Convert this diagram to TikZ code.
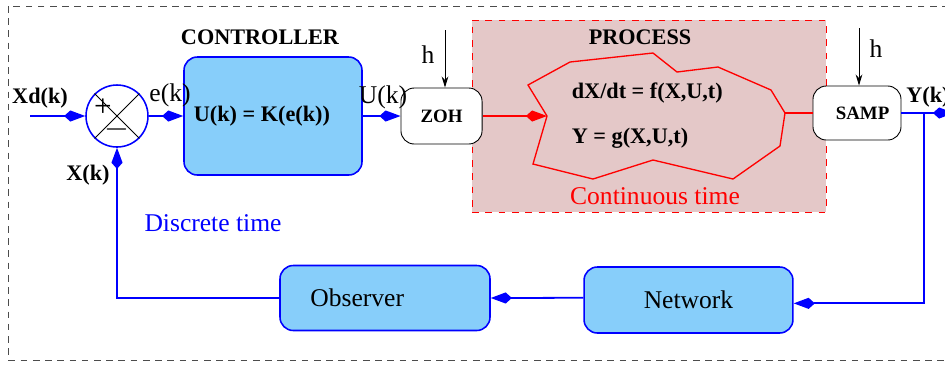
\documentclass[tikz,border=0pt]{standalone}
\usepackage{fontspec}
\setmainfont{Liberation Serif}
\usetikzlibrary{arrows.meta}
\definecolor{boxblue}{RGB}{135,206,250}
\definecolor{procpink}{RGB}{228,200,200}
\begin{document}
\begin{tikzpicture}[x=0.45pt,y=-0.45pt,
    blk/.style={draw=blue, line width=0.7pt, fill=boxblue, rounded corners=6pt, inner sep=0pt},
    smp/.style={draw=black, line width=0.4pt, fill=white, rounded corners=6pt, inner sep=0pt, font=\bfseries\fontsize{8.5}{10}\selectfont},
    sig/.style={blue, line width=0.8pt},
    kite/.style={-{Kite[length=9.5pt,width=5pt,inset=2.8pt]}},
    lbl/.style={font=\bfseries\fontsize{10}{12}\selectfont},
    txt/.style={font=\fontsize{11.5}{13}\selectfont}]
    \clip (0,0) rectangle (945,365);
    \draw[dash pattern=on 3pt off 2.5pt, black!70, line width=0.4pt] (8,6) rectangle (980,360);

    % process (continuous time)
    \node[draw=red, dashed, fill=procpink, line width=0.4pt, minimum width=159.3pt, minimum height=86.4pt, inner sep=0pt] (proc) at (649,116) {};
    \coordinate (blobin) at (547,116); \coordinate (blobout) at (785,113);
    \draw[red, line width=0.6pt] (528,85)--(570,62)--(653,53)--(677,72)--(718,67)--(771,90)--(blobout)--(780,146)--(733,179)--(653,160)--(593,179)--(533,164)--(blobin)--cycle;
    \node[lbl] (proctitle) at (640,37) {PROCESS};
    \node[lbl, anchor=west] (feq) at (564,93) {dX/dt = f(X,U,t)};
    \node[lbl, anchor=west] (geq) at (564,138) {Y = g(X,U,t)};
    \node[txt, red] (ctime) at (655,196) {Continuous time};

    % blocks
    \node[draw=blue, line width=0.7pt, circle, minimum size=27.9pt, inner sep=0pt] (sum) at (117,116) {};
    \draw[line width=0.4pt] (sum.north west)--(sum.south east); \draw[line width=0.4pt] (sum.north east)--(sum.south west);
    \node[font=\fontsize{14}{16}\selectfont, inner sep=0pt] (plus) at (103,108) {+};
    \node[font=\fontsize{14}{16}\selectfont, inner sep=0pt] (minus) at (117,129) {$-$};
    \node[blk, minimum width=80.1pt, minimum height=53.1pt, label={[lbl, xshift=-5pt]center:U(k) = K(e(k))}] (ctrl) at (273,116) {};
    \node[lbl] (ctrltitle) at (260,37) {CONTROLLER};
    \node[smp, minimum width=36.5pt, minimum height=25.2pt] (zoh) at (441.5,116) {ZOH};
    \node[smp, minimum width=39.6pt, minimum height=24.3pt] (samp) at (857,113) {\hspace{5pt}SAMP};
    \node[blk, minimum width=94.5pt, minimum height=29.25pt, label={[txt, xshift=-12.5pt]center:Observer}] (obs) at (385,298) {};
    \node[blk, minimum width=94pt, minimum height=29.7pt, txt] (net) at (688.5,300) {Network};

    % signals
    \coordinate (xdin) at (30,116);
    \draw[sig, kite] (xdin)--(sum.west);
    \draw[sig, kite] (sum.east)--(ctrl.west);
    \draw[sig, kite] (ctrl.east)--(zoh.west);
    \draw[red, line width=0.6pt, kite] (zoh.east)--(blobin);
    \draw[red, line width=0.6pt] (blobout)--(samp.west);
    \coordinate (yout) at (954,113); \coordinate (ytap) at (924,113);
    \draw[sig, kite] (samp.east)--(yout);
    \draw[sig, kite] (ytap) |- ([yshift=-1.5pt]net.east);
    \draw[sig, kite] ([yshift=1pt]net.west)--(obs.east);
    \draw[sig, kite] (obs.west) -| (sum.south);

    % sampling period
    \coordinate (hzoh) at (445,30); \coordinate (hsamp) at (859,28);
    \draw[-{Stealth[length=5pt,width=3pt]}, line width=0.4pt] (hzoh)--(hzoh |- zoh.north);
    \draw[-{Stealth[length=5pt,width=3pt]}, line width=0.4pt] (hsamp)--(hsamp |- samp.north);
    \node[txt] (hzlbl) at (428,55) {h}; \node[txt] (hslbl) at (876,49) {h};

    % labels
    \node[lbl] (xdlbl) at (40,98) {Xd(k)};
    \node[txt] (elbl) at (170,95) {e(k)};
    \node[lbl] (xlbl) at (88,175) {X(k)};
    \node[txt] (ulbl) at (383,97) {U(k)};
    \node[lbl] (ylbl) at (928,97) {Y(k)};
    \node[txt, blue] (dtime) at (213,223) {Discrete time};
\end{tikzpicture}
\end{document}
